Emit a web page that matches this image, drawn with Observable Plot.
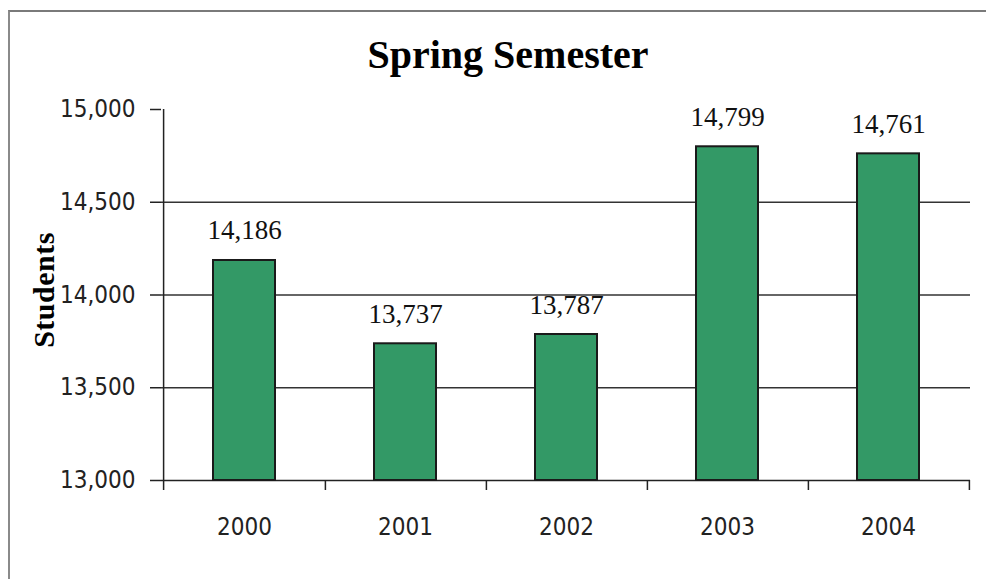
<!DOCTYPE html>
<html><head><meta charset="utf-8">
<script src="https://cdn.jsdelivr.net/npm/d3@7"></script>
<script src="https://cdn.jsdelivr.net/npm/@observablehq/plot@0.6"></script>
<style>
body{margin:0;background:#fff;}
#wrap{position:relative;width:986px;height:579px;overflow:hidden;background:#fff;}
#frame{position:absolute;left:8px;top:10px;width:1000px;height:600px;border-left:2px solid #8a8a8a;border-top:2px solid #7a7a7a;z-index:2;pointer-events:none;}
#title{position:absolute;left:508px;top:35px;transform:translateX(-50%);font:bold 40px "Liberation Serif",serif;line-height:40px;white-space:nowrap;color:#000;z-index:2;}
#ylab{position:absolute;left:44px;top:290px;transform:translate(-50%,-50%) rotate(-90deg);font:bold 30px "Liberation Serif",serif;line-height:30px;white-space:nowrap;letter-spacing:0.5px;color:#000;z-index:2;}
#chart{position:absolute;left:0;top:90px;z-index:1;}
</style></head>
<body>
<div id="wrap">
  <div id="frame"></div>
  <div id="title">Spring Semester</div>
  <div id="ylab">Students</div>
  <div id="chart"></div>
</div>
<script>
const years = ["2000", "2001", "2002", "2003", "2004"];
const students = [14186, 13737, 13787, 14799, 14761];
const yTicks = [13000, 13500, 14000, 14500, 15000];

const data = years.map((year, i) => ({year, students: students[i]}));
const fmt = d3.format(",");
const W = 986, H = 489, mL = 161, mR = 16, mT = 19, mB = 99;
const pad = 0.617;
const step = (W - mL - mR) / years.length;
const tickFont = "'DejaVu Sans Condensed','DejaVu Sans',sans-serif";
const yMin = yTicks[0], yMax = yTicks[yTicks.length - 1];

const plot = Plot.plot({
  width: W, height: H,
  marginLeft: mL, marginRight: mR, marginTop: mT, marginBottom: mB,
  style: {background: "transparent", overflow: "visible"},
  x: {domain: years, paddingInner: pad, paddingOuter: pad / 2, label: null},
  y: {domain: [yMin, yMax], label: null},
  marks: [
    Plot.ruleY(yTicks.slice(1, -1), {stroke: "#333", strokeWidth: 1.5}),
    Plot.ruleY([yMin], {stroke: "#222", strokeWidth: 1.5}),
    Plot.ruleX([years[0]], {dx: -step / 2, y1: yMax, y2: yMin, insetBottom: -10, stroke: "#222", strokeWidth: 1.5}),
    Plot.axisX({ticks: years, tickSize: 10, dx: step / 2, tickFormat: () => "", label: null, stroke: "#222", strokeWidth: 1.5}),
    Plot.axisX({tickSize: 0, tickPadding: 37, fontSize: 24, fontFamily: tickFont, fill: "#222", label: null}),
    Plot.axisY({ticks: yTicks, tickSize: 11, tickPadding: 15, tickFormat: fmt, fontSize: 24, fontFamily: tickFont, fill: "#222", stroke: "#222", strokeWidth: 1.5, label: null}),
    Plot.barY(data, {x: "year", y1: yMin, y2: "students", fill: "#339966", stroke: "#1a1a1a", strokeWidth: 2}),
    Plot.text(data, {x: "year", y: "students", text: d => fmt(d.students), dy: -21, lineAnchor: "bottom", fontSize: 27, fontFamily: "'Liberation Serif',serif", fill: "#111"})
  ]
});
document.getElementById("chart").appendChild(plot);
</script>
</body></html>
